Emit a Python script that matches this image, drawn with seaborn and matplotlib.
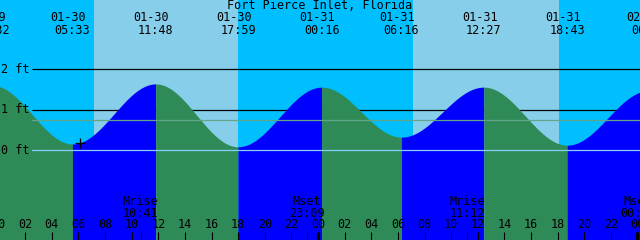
import numpy as np
import matplotlib
matplotlib.use("Agg")
import matplotlib.pyplot as plt
import seaborn as sns
import pandas as pd

# ---------------- data ----------------
title = "Fort Pierce Inlet, Florida"

event_dates = ["01-29", "01-30", "01-30", "01-30", "01-31", "01-31", "01-31", "01-31", "02-01"]
event_times = ["23:32", "05:33", "11:48", "17:59", "00:16", "06:16", "12:27", "18:43", "00:50"]
event_heights = [1.60, 0.15, 1.64, 0.08, 1.56, 0.32, 1.56, 0.12, 1.47]

moon_labels = ["Mrise", "Mset", "Mrise", "Mset"]
moon_dates = ["01-30", "01-30", "01-31", "02-01"]
moon_times = ["10:41", "23:09", "11:12", "00:02"]

sunrise_dates = ["01-30", "01-31"]
sunrise_times = ["07:10", "07:07"]
sunset_dates = ["01-30", "01-31"]
sunset_times = ["18:00", "18:07"]

depth_levels = [0, 1, 2]
depth_labels = ["0 ft", "1 ft", "2 ft"]
mean_level = 0.74
now_time = "06:07"
now_date = "01-30"

hour_ticks = list(range(0, 50, 2))

day_offset = {"01-29": -24.0, "01-30": 0.0, "01-31": 24.0, "02-01": 48.0}


def to_hours(d, t):
    hh, mm = t.split(":")
    return day_offset[d] + int(hh) + int(mm) / 60.0


event_hours = [to_hours(d, t) for d, t in zip(event_dates, event_times)]
moon_hours = [to_hours(d, t) for d, t in zip(moon_dates, moon_times)]
sunrise_hours = [to_hours(d, t) for d, t in zip(sunrise_dates, sunrise_times)]
sunset_hours = [to_hours(d, t) for d, t in zip(sunset_dates, sunset_times)]

# ---------------- style ----------------
sns.set_theme(style="white")
plt.rcParams["font.family"] = ["DejaVu Sans Mono", "DejaVu Sans"]

NIGHT = "#00BFFF"
DAY = "#87CEEB"
FLOOD = "#0000FF"
EBB = "#2E8B57"
MSL_C = "#62A487"
DATUM_C = "#87CEFA"
FS = 8.5

W, H = 640, 240
fig = plt.figure(figsize=(W / 100, H / 100), dpi=100)
ax = fig.add_axes([0, 0, 1, 1])

# pixel mapping: x_px = -1.4 + 13.31 * t ; y_px = 150 - 40.3 * h
px_per_h = 13.31
x0 = -1.4
px_per_ft = 40.3
y0 = 150.0
t_min = (0 - x0) / px_per_h
t_max = (W - x0) / px_per_h
h_top = y0 / px_per_ft
h_bot = (y0 - H) / px_per_ft

# background day/night
ax.axvspan(t_min - 1, t_max + 1, color=NIGHT, lw=0, zorder=0)
for sr, ss in zip(sunrise_hours, sunset_hours):
    ax.axvspan(sr, ss, color=DAY, lw=0, zorder=0.5)

# depth lines behind water
t_line0 = (32 - x0) / px_per_h
for lv in depth_levels:
    if lv != 0:
        ax.hlines(lv, t_line0, t_max + 1, color="black", lw=0.9, zorder=1)


# tide curve (cosine between successive extrema)
def tide_segment(i):
    ta, tb = event_hours[i], event_hours[i + 1]
    ha, hb = event_heights[i], event_heights[i + 1]
    tt = np.linspace(ta, tb, 300)
    f = (tt - ta) / (tb - ta)
    hh = ha + (hb - ha) * (1 - np.cos(np.pi * f)) / 2
    return tt, hh


for i in range(len(event_hours) - 1):
    tt, hh = tide_segment(i)
    rising = event_heights[i + 1] > event_heights[i]
    col = FLOOD if rising else EBB
    ax.fill_between(tt, hh, h_bot - 1, color=col, lw=0, antialiased=False, zorder=2)

# mean level and datum line over water (seaborn)
ref_lines = pd.DataFrame({
    "t": [t_line0, t_max + 1, t_line0, t_max + 1],
    "h": [mean_level, mean_level, 0.0, 0.0],
    "kind": ["mean", "mean", "datum", "datum"],
})
sns.lineplot(data=ref_lines, x="t", y="h", hue="kind", palette={"mean": MSL_C, "datum": DATUM_C},
             ax=ax, lw=0.9, legend=False, zorder=3)

ax.set_xlim(t_min, t_max)
ax.set_ylim(h_bot, h_top)
ax.set_axis_off()

# depth labels
for lv, lab in zip(depth_levels, depth_labels):
    ax.text(t_min + 1 / px_per_h, lv, lab, ha="left", va="center", fontsize=FS, color="black", zorder=5)

# now marker
tn = to_hours(now_date, now_time)
for i in range(len(event_hours) - 1):
    if event_hours[i] <= tn <= event_hours[i + 1]:
        ta, tb = event_hours[i], event_hours[i + 1]
        ha, hb = event_heights[i], event_heights[i + 1]
        f = (tn - ta) / (tb - ta)
        hn = ha + (hb - ha) * (1 - np.cos(np.pi * f)) / 2
        ax.plot([tn], [hn], marker="+", ms=7, mew=0.9, color="black", zorder=5)

xt = ax.get_xaxis_transform()


def yfrac(ypx):
    return 1 - ypx / H


# title
ax.text((t_min + t_max) / 2, yfrac(5.5), title, transform=xt, ha="center", va="center",
        fontsize=FS, color="black", zorder=6)

# event labels on top
for t, d, s in zip(event_hours, event_dates, event_times):
    ax.annotate(d, xy=(t, yfrac(17.5)), xycoords=xt, xytext=(-3, 0), textcoords="offset points",
                ha="center", va="center", fontsize=FS, color="black", zorder=6, annotation_clip=False)
    ax.text(t, yfrac(30), s, transform=xt, ha="center", va="center", fontsize=FS, color="black", zorder=6)

# hour ticks
for hr in hour_ticks:
    lab = "%02d" % (hr % 24)
    ax.text(hr, yfrac(225), lab, transform=xt, ha="center", va="center", fontsize=FS, color="black", zorder=6)
    if hr % 24 == 0:
        ax.vlines(hr, 0, 8.5 / H, transform=xt, color="black", lw=2.3, zorder=6)
    else:
        ax.vlines(hr, 0, 8.5 / H, transform=xt, color="black", lw=0.8, zorder=6)

# moon events
for t, lab, s in zip(moon_hours, moon_labels, moon_times):
    ax.text(t, yfrac(201.5), lab, transform=xt, ha="center", va="center", fontsize=FS, color="black", zorder=6)
    ax.text(t, yfrac(213.5), s, transform=xt, ha="center", va="center", fontsize=FS, color="black", zorder=6)
    ax.vlines(t, 0, 8.5 / H, transform=xt, color="black", lw=0.8, zorder=6)

fig.savefig("out.png", dpi=100)
